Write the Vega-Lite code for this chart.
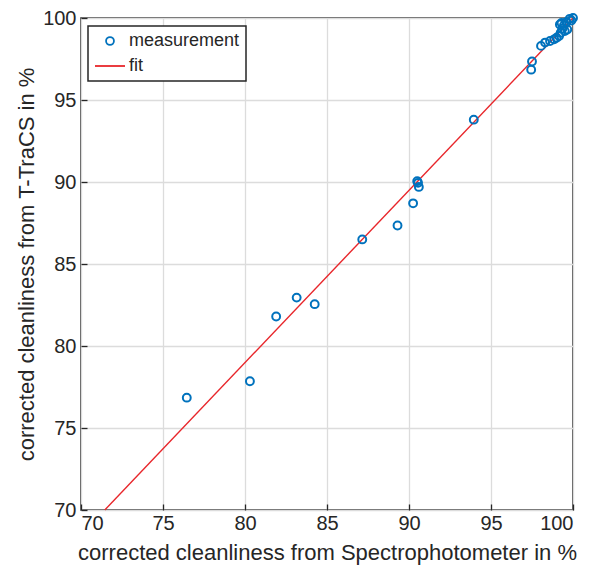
{
  "$schema": "https://vega.github.io/schema/vega-lite/v6.json",
  "width": 492,
  "height": 492,
  "autosize": {"type": "none"},
  "padding": {"left": 81, "top": 18, "right": 19, "bottom": 61},
  "background": "white",
  "config": {
    "font": "Liberation Sans",
    "view": {"stroke": "#262626", "strokeWidth": 1.5},
    "axis": {
      "domain": false,
      "grid": true,
      "gridColor": "#dcdcdc",
      "gridWidth": 1.3,
      "tickColor": "#262626",
      "tickWidth": 1.3,
      "tickSize": -6,
      "labelFont": "Liberation Sans",
      "labelFontSize": 20,
      "labelColor": "#262626",
      "titleFont": "Liberation Sans",
      "titleFontSize": 22,
      "titleFontWeight": "normal",
      "titleColor": "#262626"
    },
    "axisX": {"labelPadding": 9, "titlePadding": 9},
    "axisY": {"labelPadding": 11, "titlePadding": 4},
    "legend": {
      "orient": "none",
      "legendX": 7,
      "legendY": 8,
      "strokeColor": "#262626",
      "strokeWidth": 1.5,
      "fillColor": "white",
      "padding": 6,
      "labelFont": "Liberation Sans",
      "labelFontSize": 18,
      "labelColor": "#262626",
      "labelOffset": 3,
      "rowPadding": -5,
      "symbolStrokeWidth": 1.8
    }
  },
  "layer": [
    {
      "data": {"values": [{"x": 71.45, "y": 70.0}, {"x": 100.0, "y": 100.0}]},
      "mark": {"type": "line", "color": "#e8262b", "strokeWidth": 1.4},
      "encoding": {
        "x": {"field": "x", "type": "quantitative", "scale": {"domain": [70, 100], "nice": false, "zero": false}, "axis": {"title": "corrected cleanliness from Spectrophotometer in %", "values": [70, 75, 80, 85, 90, 95, 100]}},
        "y": {"field": "y", "type": "quantitative", "scale": {"domain": [70, 100], "nice": false, "zero": false}, "axis": {"title": "corrected cleanliness from T-TraCS in %", "values": [70, 75, 80, 85, 90, 95, 100]}}
      }
    },
    {
      "data": {"values": [
        {"x": 76.45, "y": 76.85, "series": "measurement"},
        {"x": 80.3, "y": 77.85, "series": "measurement"},
        {"x": 81.9, "y": 81.8, "series": "measurement"},
        {"x": 83.15, "y": 82.95, "series": "measurement"},
        {"x": 84.25, "y": 82.55, "series": "measurement"},
        {"x": 87.15, "y": 86.5, "series": "measurement"},
        {"x": 89.3, "y": 87.35, "series": "measurement"},
        {"x": 90.25, "y": 88.7, "series": "measurement"},
        {"x": 90.5, "y": 90.05, "series": "measurement"},
        {"x": 90.55, "y": 89.95, "series": "measurement"},
        {"x": 90.6, "y": 89.7, "series": "measurement"},
        {"x": 93.95, "y": 93.8, "series": "measurement"},
        {"x": 97.5, "y": 97.35, "series": "measurement"},
        {"x": 97.45, "y": 96.85, "series": "measurement"},
        {"x": 98.05, "y": 98.3, "series": "measurement"},
        {"x": 98.3, "y": 98.5, "series": "measurement"},
        {"x": 98.6, "y": 98.6, "series": "measurement"},
        {"x": 98.85, "y": 98.7, "series": "measurement"},
        {"x": 99.0, "y": 98.8, "series": "measurement"},
        {"x": 99.15, "y": 98.9, "series": "measurement"},
        {"x": 99.25, "y": 99.1, "series": "measurement"},
        {"x": 99.35, "y": 99.35, "series": "measurement"},
        {"x": 99.3, "y": 99.7, "series": "measurement"},
        {"x": 99.45, "y": 99.55, "series": "measurement"},
        {"x": 99.6, "y": 99.75, "series": "measurement"},
        {"x": 99.65, "y": 99.3, "series": "measurement"},
        {"x": 99.5, "y": 99.2, "series": "measurement"},
        {"x": 99.2, "y": 99.6, "series": "measurement"},
        {"x": 99.8, "y": 99.95, "series": "measurement"},
        {"x": 99.9, "y": 99.85, "series": "measurement"},
        {"x": 100.0, "y": 100.0, "series": "measurement"}
      ]},
      "mark": {"type": "point", "filled": false, "strokeWidth": 2, "opacity": 1},
      "encoding": {
        "x": {"field": "x", "type": "quantitative"},
        "y": {"field": "y", "type": "quantitative"},
        "color": {"field": "series", "type": "nominal", "title": null, "scale": {"domain": ["measurement", "fit"], "range": ["#0072BD", "#e8262b"]}},
        "shape": {"field": "series", "type": "nominal", "title": null, "scale": {"domain": ["measurement", "fit"], "range": ["circle", "stroke"]}},
        "size": {"field": "series", "type": "nominal", "title": null, "scale": {"type": "ordinal", "domain": ["measurement", "fit"], "range": [62, 900]}}
      }
    }
  ]
}
